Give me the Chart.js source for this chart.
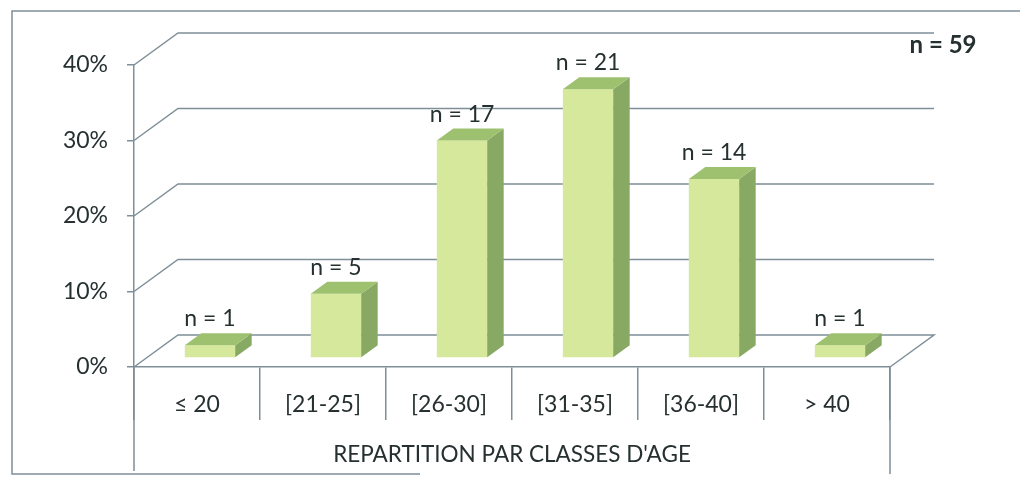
<!DOCTYPE html>
<html>
<head>
<meta charset="utf-8">
<script src="https://cdn.jsdelivr.net/npm/chart.js@4/dist/chart.umd.min.js"></script>
<style>
  body { margin: 0; background: #fff; }
  canvas { display: block; }
</style>
</head>
<body>
<canvas id="ageChart" width="1020" height="477"></canvas>
<script>
// data
var categories = ["\u2264 20", "[21-25]", "[26-30]", "[31-35]", "[36-40]", "> 40"];
var counts = [1, 5, 17, 21, 14, 1];
var percents = [1.7, 8.5, 28.8, 35.6, 23.7, 1.7];
var yMax = 40;
var yStep = 10;
var totalLabel = "n = 59";
var axisTitle = "REPARTITION PAR CLASSES D'AGE";

var gridColor = "#7f8f98";
var textColor = "#263030";
var frontColor = "#d5e89c";
var topColor = "#9ec170";
var sideColor = "#88a963";

// 3d look: back wall offset and where the bars sit in depth
var wallDx = 44, wallDy = -32;
var barDx = 13, barDy = -9;
var depthDx = 16.5, depthDy = -12;

var pseudo3d = {
  id: "pseudo3d",
  beforeDraw: function(chart) {
    var ctx = chart.ctx;
    ctx.save();
    ctx.fillStyle = "#fff";
    ctx.fillRect(0, 0, chart.width, chart.height);
    // outer frame (scan is cropped on the right)
    ctx.strokeStyle = gridColor;
    ctx.lineWidth = 1.5;
    ctx.beginPath();
    ctx.moveTo(1020, 11);
    ctx.lineTo(12, 11);
    ctx.lineTo(12, 474);
    ctx.lineTo(420, 474);
    ctx.stroke();
    ctx.restore();
  },
  beforeDatasetsDraw: function(chart) {
    var ctx = chart.ctx, area = chart.chartArea, y = chart.scales.y;
    ctx.save();
    ctx.strokeStyle = gridColor;
    ctx.lineWidth = 1.5;
    // back wall gridlines and floor
    for (var v = 0; v <= yMax; v += yStep) {
      var py = y.getPixelForValue(v);
      ctx.beginPath();
      ctx.moveTo(area.left, py);
      ctx.lineTo(area.left + wallDx, py + wallDy);
      ctx.lineTo(area.right + wallDx, py + wallDy);
      if (v === 0) ctx.lineTo(area.right, py);
      ctx.stroke();
    }
    // axis lines continuing down to the frame
    ctx.beginPath();
    ctx.moveTo(area.left, area.bottom);
    ctx.lineTo(area.left, 471);
    ctx.moveTo(area.right, area.bottom);
    ctx.lineTo(area.right, 474);
    ctx.stroke();
    // total
    ctx.fillStyle = textColor;
    ctx.font = "bold 24px Lato";
    ctx.textAlign = "center";
    ctx.textBaseline = "middle";
    ctx.fillText(totalLabel, 943, 45);
    ctx.restore();

    ctx.save();
    ctx.translate(barDx, barDy);
  },
  afterDatasetsDraw: function(chart) {
    var ctx = chart.ctx;
    ctx.restore();
    ctx.save();
    var bars = chart.getDatasetMeta(0).data;
    bars.forEach(function(bar, i) {
      var p = bar.getProps(["x", "y", "base", "width"], true);
      var l = p.x - p.width / 2 + barDx;
      var r = p.x + p.width / 2 + barDx;
      var t = p.y + barDy;
      var b = p.base + barDy;
      ctx.fillStyle = sideColor;
      ctx.beginPath();
      ctx.moveTo(r, t);
      ctx.lineTo(r + depthDx, t + depthDy);
      ctx.lineTo(r + depthDx, b + depthDy);
      ctx.lineTo(r, b);
      ctx.closePath();
      ctx.fill();
      ctx.fillStyle = topColor;
      ctx.beginPath();
      ctx.moveTo(l, t);
      ctx.lineTo(l + depthDx, t + depthDy);
      ctx.lineTo(r + depthDx, t + depthDy);
      ctx.lineTo(r, t);
      ctx.closePath();
      ctx.fill();
      ctx.fillStyle = textColor;
      ctx.font = "23px Lato";
      ctx.textAlign = "center";
      ctx.textBaseline = "alphabetic";
      ctx.fillText("n = " + counts[i], p.x + barDx, t + depthDy - 7);
    });
    ctx.restore();
  }
};

var ctx = document.getElementById("ageChart").getContext("2d");
var ageChart = new Chart(ctx, {
  type: "bar",
  data: {
    labels: categories,
    datasets: [
      {
        data: percents,
        backgroundColor: frontColor,
        borderWidth: 0,
        barPercentage: 0.4,
        categoryPercentage: 1
      }
    ]
  },
  options: {
    responsive: false,
    animation: false,
    devicePixelRatio: 1,
    layout: { padding: { left: 0, right: 130, top: 65, bottom: 0 } },
    plugins: {
      legend: { display: false },
      tooltip: { enabled: false }
    },
    scales: {
      x: {
        afterFit: function(scale) { scale.height = 110; },
        grid: {
          display: true,
          drawOnChartArea: false,
          drawTicks: true,
          tickLength: 53,
          color: gridColor,
          lineWidth: 1.5
        },
        border: { display: true, color: gridColor, width: 1.5 },
        ticks: {
          color: textColor,
          font: { family: "Lato", size: 23 },
          padding: -29,
          maxRotation: 0
        },
        title: {
          display: true,
          text: axisTitle,
          color: textColor,
          font: { family: "Lato", size: 22.5 },
          padding: { top: 0, bottom: 9 }
        }
      },
      y: {
        min: 0,
        max: yMax,
        afterFit: function(scale) { scale.width = 134; },
        grid: {
          display: true,
          drawOnChartArea: false,
          drawTicks: true,
          tickLength: 7,
          color: gridColor,
          lineWidth: 1.5
        },
        border: { display: true, color: gridColor, width: 1.5 },
        ticks: {
          stepSize: yStep,
          color: textColor,
          font: { family: "Lato", size: 23 },
          padding: 19,
          callback: function(v) { return v + "%"; }
        }
      }
    }
  },
  plugins: [pseudo3d]
});
</script>
</body>
</html>
